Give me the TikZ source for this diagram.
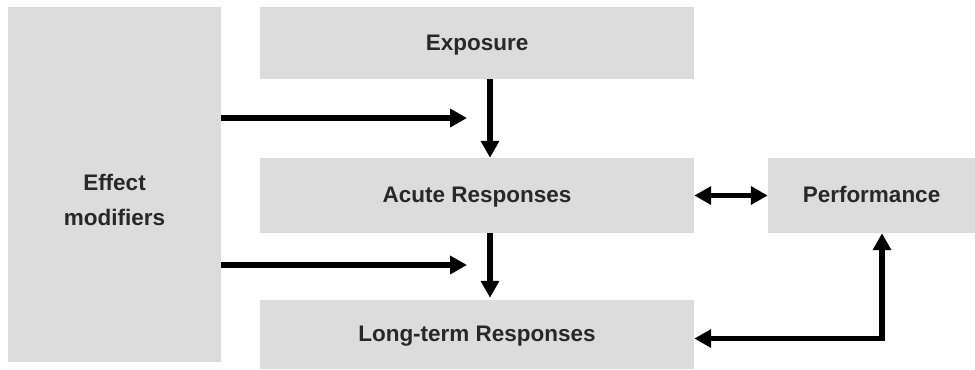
\documentclass[tikz,border=0pt]{standalone}
\usepackage{fontspec}
\setmainfont{Liberation Sans}
\usetikzlibrary{arrows.meta}

\definecolor{boxgray}{RGB}{220,220,220}
\definecolor{textgray}{RGB}{40,40,40}

\tikzset{
    box/.style={rectangle, fill=boxgray, inner sep=0pt, text=textgray,
        font=\fontsize{16}{25}\selectfont\bfseries, text height=1.0em, text depth=0pt},
    link/.style={line width=0.13cm, -{Triangle[length=0.42cm, width=0.44cm]}},
    duallink/.style={line width=0.13cm, {Triangle[length=0.42cm, width=0.44cm]}-{Triangle[length=0.42cm, width=0.44cm]}}
}

\begin{document}
\begin{tikzpicture}
    \useasboundingbox (0,0) rectangle (24.375,-9.225);

    \node[box, minimum width=5.325cm, minimum height=8.875cm] (effect) at (2.8625, -4.6125) {};
    \node[text=textgray, font=\fontsize{16}{25}\selectfont\bfseries, align=center] (effect_label) at (2.8625, -5.0) {Effect\\modifiers};
    \node[box, minimum width=10.85cm, minimum height=1.8cm] (exposure) at (11.925, -1.075) {Exposure};
    \node[box, minimum width=10.85cm, minimum height=1.875cm] (acute) at (11.925, -4.8875) {Acute Responses};
    \node[box, minimum width=10.85cm, minimum height=1.725cm] (longterm) at (11.925, -8.3625) {Long-term Responses};
    \node[box, minimum width=5.175cm, minimum height=1.875cm] (perf) at (21.7875, -4.8875) {Performance};

    \coordinate (in_acute) at (11.675, -2.95);
    \coordinate (in_longterm) at (11.675, -6.625);

    \draw[link] (effect.east |- in_acute) -- (in_acute);
    \draw[link] (effect.east |- in_longterm) -- (in_longterm);
    \draw[link] ([xshift=0.325cm]exposure.south) -- ([xshift=0.325cm]acute.north);
    \draw[link] ([xshift=0.325cm]acute.south) -- ([xshift=0.325cm, yshift=0.05cm]longterm.north);
    \draw[duallink] (acute.east) -- (perf.west);
    \draw[duallink] ([yshift=-0.1cm]longterm.east) -| ([xshift=0.2625cm]perf.south);

\end{tikzpicture}
\end{document}
